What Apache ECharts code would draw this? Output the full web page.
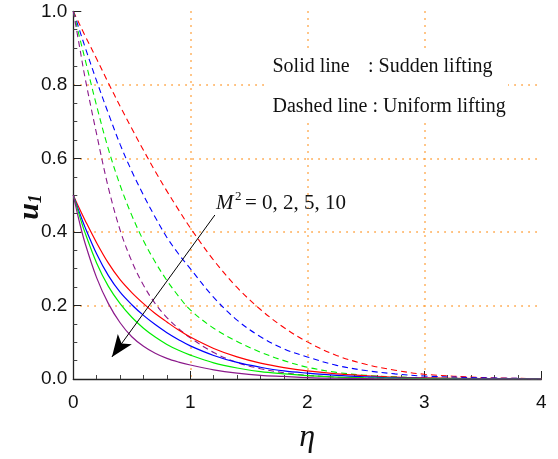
<!DOCTYPE html>
<html><head><meta charset="utf-8">
<script src="https://cdn.jsdelivr.net/npm/echarts@6/dist/echarts.min.js"></script>
<style>html,body{margin:0;padding:0;background:#fff}#c{width:558px;height:459px}</style>
</head><body><div id="c"></div>
<script>
// eta grid (x values read at these positions)
const eta = [0,0.05,0.1,0.2,0.3,0.4,0.5,0.6,0.7,0.8,0.9,1.0,1.2,1.4,1.6,1.8,2.0,2.25,2.5,2.75,3.0,3.5,4.0];
// Solid lines: sudden lifting, M^2 = 0, 2, 5, 10
const solidM0  = [0.5,0.465,0.432,0.37,0.315,0.27,0.235,0.205,0.178,0.155,0.133,0.114,0.083,0.06,0.043,0.031,0.022,0.014,0.009,0.005,0.003,0.001,0.0];
const solidM2  = [0.5,0.455,0.413,0.34,0.281,0.236,0.202,0.173,0.148,0.126,0.107,0.09,0.064,0.045,0.032,0.022,0.016,0.01,0.006,0.003,0.002,0.0005,0];
const solidM5  = [0.5,0.447,0.398,0.315,0.252,0.205,0.168,0.138,0.114,0.094,0.078,0.065,0.044,0.03,0.02,0.014,0.009,0.005,0.003,0.002,0.001,0,0];
const solidM10 = [0.5,0.43,0.37,0.275,0.205,0.153,0.115,0.089,0.07,0.056,0.046,0.038,0.025,0.016,0.01,0.007,0.004,0.002,0.001,0,0,0,0];
// Dashed lines: uniform lifting, M^2 = 0, 2, 5, 10
const dashM0  = [1,0.967,0.934,0.870,0.805,0.742,0.681,0.622,0.565,0.511,0.460,0.411,0.323,0.249,0.189,0.140,0.101,0.064,0.040,0.024,0.013,0.004,0.001];
const dashM2  = [1,0.952,0.903,0.81,0.722,0.638,0.565,0.50,0.44,0.385,0.34,0.300,0.222,0.16,0.115,0.082,0.06,0.037,0.023,0.014,0.008,0.003,0.001];
const dashM5  = [1,0.934,0.87,0.742,0.625,0.527,0.445,0.376,0.318,0.268,0.225,0.188,0.138,0.102,0.073,0.05,0.032,0.018,0.01,0.006,0.003,0.001,0];
const dashM10 = [1,0.91,0.82,0.665,0.52,0.405,0.32,0.255,0.205,0.167,0.137,0.112,0.072,0.045,0.028,0.017,0.01,0.005,0.003,0.001,0.001,0,0];
// arrow annotation (data coords): from label toward decreasing curves
const arrowFrom = [1.21, 0.446];
const arrowTo = [0.33, 0.06];

const colors = ['#ff0000','#0000ff','#00ee00','#8b1a8b'];
const solids = [solidM0, solidM2, solidM5, solidM10];
const dashes = [dashM0, dashM2, dashM5, dashM10];
const pair = arr => eta.map((x,i)=>[x, arr[i]]);

const series = [];
dashes.forEach((d,k)=>series.push({type:'line', data:pair(d), showSymbol:false, smooth:0.35,
  lineStyle:{color:colors[k], width:1.1, type:[6,4]}, z:2, silent:true}));
solids.forEach((d,k)=>series.push({type:'line', data:pair(d), showSymbol:false, smooth:0.35,
  lineStyle:{color:colors[k], width:1.2}, z:3, silent:true}));
series.push({type:'line', data:[], markLine:{silent:true, symbol:['none','arrow'], symbolSize:[13,22],
  lineStyle:{color:'#000', width:1, type:'solid'}, label:{show:false},
  data:[[{coord:arrowFrom},{coord:arrowTo}]]}});

const chart = echarts.init(document.getElementById('c'), null, {renderer:'canvas'});
const tickFont = {fontFamily:'"Liberation Sans Narrow","Liberation Sans",Arial', fontSize:19, color:'#111'};
chart.setOption({
  animation:false,
  grid:{left:73.3, right:16.7, top:11.3, bottom:76.7},
  xAxis:{type:'value', min:0, max:4, interval:1,
    axisLine:{lineStyle:{color:'#222', width:1.3}},
    axisTick:{inside:true, length:8, lineStyle:{color:'#222'}},
    minorTick:{show:true, splitNumber:5, length:4, lineStyle:{color:'#444'}},
    axisLabel:{...tickFont, margin:14},
    splitLine:{show:true, showMinLine:false, showMaxLine:false, lineStyle:{color:'#ff9a2e', width:1.5, type:[1.5,5.5]}},
    name:'η', nameLocation:'middle', nameGap:43,
    nameTextStyle:{fontFamily:'"Liberation Serif","Times New Roman",serif', fontStyle:'italic', fontSize:32, color:'#111'}
  },
  yAxis:{type:'value', min:0, max:1, interval:0.2,
    axisLine:{show:true, lineStyle:{color:'#222', width:1.3}},
    axisTick:{show:true, inside:true, length:8, lineStyle:{color:'#222'}},
    minorTick:{show:true, splitNumber:4, length:4, lineStyle:{color:'#444'}},
    axisLabel:{...tickFont, margin:6, formatter:v=>v.toFixed(1)},
    splitLine:{show:true, showMinLine:false, showMaxLine:false, lineStyle:{color:'#ff9a2e', width:1.5, type:[1.5,5.5]}}
  },
  graphic:[
    {type:'text', x:30, y:207, rotation:Math.PI/2, z:11, style:{text:'{u|u}{s|1}', align:'center', verticalAlign:'middle',
      rich:{
        u:{fontFamily:'"Liberation Serif",serif', fontStyle:'italic', fontWeight:'bold', fontSize:30, fill:'#111', color:'#111'},
        s:{fontFamily:'"Liberation Serif",serif', fontStyle:'italic', fontWeight:'bold', fontSize:18, fill:'#111', color:'#111', padding:[12,0,0,0]}
      }}},
    {type:'rect', left:267, top:50, shape:{width:241, height:73}, style:{fill:'#fff'}, z:10},
    {type:'text', left:272.5, top:57, z:11, style:{text:'Solid line', font:'20px "Liberation Serif", serif', fill:'#111'}},
    {type:'text', left:368, top:57, z:11, style:{text:': Sudden lifting', font:'20px "Liberation Serif", serif', fill:'#111'}},
    {type:'text', left:272.5, top:97, z:11, style:{text:'Dashed line : Uniform lifting', font:'20px "Liberation Serif", serif', fill:'#111'}},
    {type:'text', left:216, top:193, z:11, style:{text:'M', font:'italic 21px "Liberation Serif", serif', fill:'#111'}},
    {type:'text', left:235, top:190, z:11, style:{text:'2', font:'13px "Liberation Serif", serif', fill:'#111'}},
    {type:'text', left:245, top:193, z:11, style:{text:'= 0, 2, 5, 10', font:'21px "Liberation Serif", serif', fill:'#111'}}
  ],
  series
});
</script></body></html>
